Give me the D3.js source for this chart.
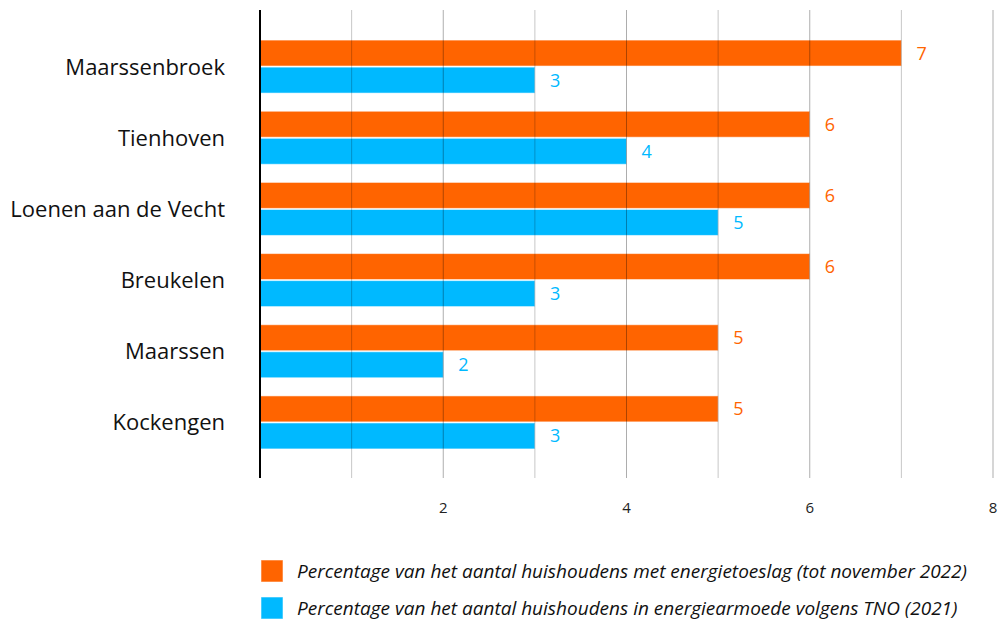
<!DOCTYPE html>
<html><head><meta charset="utf-8">
<script src="https://cdn.jsdelivr.net/npm/d3@7"></script>
<style>html,body{margin:0;padding:0;background:#fff;}svg{display:block;font-family:"Open Sans","Noto Sans",sans-serif;}</style>
</head><body>
<svg id="c" width="1003" height="621"></svg>
<script>
const categories = ["Maarssenbroek","Tienhoven","Loenen aan de Vecht","Breukelen","Maarssen","Kockengen"];
const energietoeslag = [7,6,6,6,5,5];
const energiearmoede = [3,4,5,3,2,3];
const seriesNames = ["Percentage van het aantal huishoudens met energietoeslag (tot november 2022)",
                     "Percentage van het aantal huishoudens in energiearmoede volgens TNO (2021)"];
const tickLabels = [2,4,6,8];
const gridValues = [1,2,3,4,5,6,7,8];
const colors = ["#ff6400","#00b9ff"];

const svg = d3.select("#c");
const x = d3.scaleLinear().domain([0,8]).range([260,993]);
const y = d3.scaleBand().domain(categories).range([31,458]).paddingInner(0.255).paddingOuter(0.1275);
const sub = d3.scaleBand().domain([0,1]).range([0,y.bandwidth()]).paddingInner(0.04);

const data = categories.map((c,i)=>({cat:c, vals:[energietoeslag[i], energiearmoede[i]]}));

// bars
const g = svg.append("g");
data.forEach(d=>{
  d.vals.forEach((v,k)=>{
    g.append("rect")
      .attr("x", x(0)).attr("y", y(d.cat)+sub(k))
      .attr("width", x(v)-x(0)).attr("height", sub.bandwidth())
      .attr("fill", colors[k])
      .attr("stroke","rgba(255,255,255,0.55)").attr("stroke-width",1);
    g.append("text")
      .attr("x", x(v)+15).attr("y", y(d.cat)+sub(k)+sub.bandwidth()/2)
      .attr("dy","0.36em").attr("font-size",18).attr("fill",colors[k])
      .text(v);
  });
});

// grid lines on top
svg.append("g").selectAll("line").data(gridValues).join("line")
  .attr("x1",d=>x(d)).attr("x2",d=>x(d)).attr("y1",10).attr("y2",478)
  .attr("stroke","#000").attr("stroke-opacity",d=>d%2===0?0.32:0.22).attr("stroke-width",1);

// axis line
svg.append("line").attr("x1",x(0)).attr("x2",x(0)).attr("y1",10).attr("y2",478)
  .attr("stroke","#000").attr("stroke-width",2);

// tick labels
svg.append("g").selectAll("text").data(tickLabels).join("text")
  .attr("x",d=>x(d)).attr("y",508).attr("dy","0.36em").attr("text-anchor","middle")
  .attr("font-size",15).attr("fill","#222").text(d=>d);

// category labels
svg.append("g").selectAll("text").data(categories).join("text")
  .attr("x",225).attr("y",d=>y(d)+y.bandwidth()/2).attr("dy","0.36em")
  .attr("text-anchor","end").attr("font-size",22).attr("fill","#111").text(d=>d);

// legend
const lg = svg.append("g");
seriesNames.forEach((n,k)=>{
  const cy = 571 + k*37;
  lg.append("rect").attr("x",261).attr("y",cy-11).attr("width",22).attr("height",22)
    .attr("fill",colors[k]).attr("stroke","rgba(255,255,255,0.55)");
  lg.append("text").attr("x",297).attr("y",cy).attr("dy","0.36em")
    .attr("font-size",19).attr("font-style","italic").attr("fill","#111").text(n);
});
</script>
</body></html>
